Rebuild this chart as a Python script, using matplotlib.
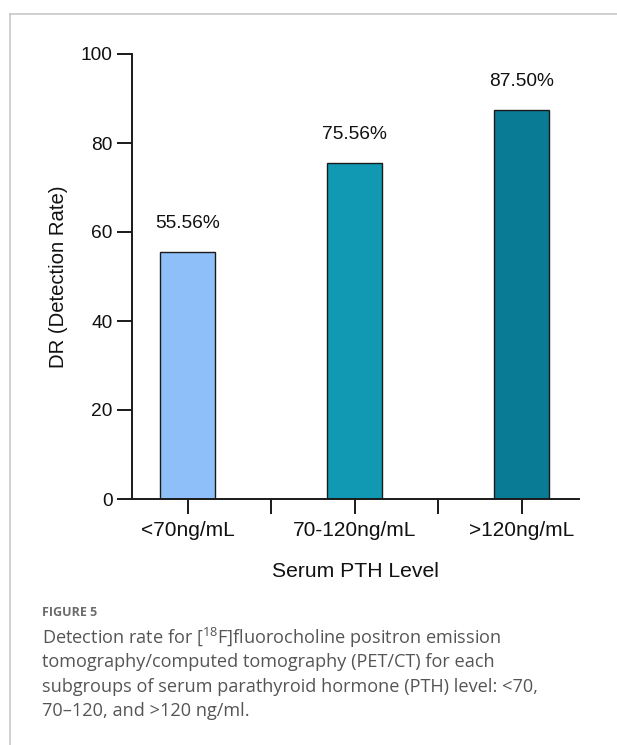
import matplotlib
matplotlib.use("Agg")
import matplotlib.pyplot as plt
from matplotlib.lines import Line2D

# 数据
categories = ["<70ng/mL", "70-120ng/mL", ">120ng/mL"]
detection_rate = [55.56, 75.56, 87.50]
value_labels = ["55.56%", "75.56%", "87.50%"]
bar_colors = ["#8fbff8", "#1199b4", "#0a7b94"]
y_ticks = [0, 20, 40, 60, 80, 100]

plt.rcParams["font.family"] = ["Liberation Sans", "DejaVu Sans"]
plt.rcParams["mathtext.fontset"] = "custom"
plt.rcParams["mathtext.rm"] = "Open Sans"

W, H = 617, 745
fig = plt.figure(figsize=(W / 100, H / 100), dpi=100)

# 坐标轴位置（像素换算）
left, right, top, bottom = 132, 579, 54, 499
ax = fig.add_axes([left / W, 1 - bottom / H, (right - left) / W, (bottom - top) / H])

x = list(range(len(categories)))
ax.bar(x, detection_rate, width=0.327, color=bar_colors, edgecolor="#1a1a1a", linewidth=1.0)

for xi, v, lab in zip(x, detection_rate, value_labels):
    ax.annotate(lab, (xi, v), xytext=(0, 28), textcoords="offset pixels",
                ha="center", va="center", fontsize=13.8, color="#111111")

ax.set_xlim(-0.333, 2.343)
ax.set_ylim(0, 100)
ax.set_yticks(y_ticks)
ax.set_xticks(x)
ax.set_xticklabels(categories)
ax.set_xticks([0.5, 1.5], minor=True)

for s in ["top", "right"]:
    ax.spines[s].set_visible(False)
for s in ["left", "bottom"]:
    ax.spines[s].set_linewidth(1.4)
    ax.spines[s].set_color("#1a1a1a")

ax.tick_params(axis="both", which="both", direction="out", length=10.8, width=1.4,
               color="#1a1a1a", labelcolor="#111111")
ax.tick_params(axis="y", which="major", pad=3, labelsize=13.8)
ax.tick_params(axis="x", which="major", pad=5, labelsize=15)

ax.set_ylabel("DR (Detection Rate)", fontsize=14.6, labelpad=9, color="#111111")
ax.set_xlabel("Serum PTH Level", fontsize=15.2, labelpad=16, color="#111111")

# 外框线
fig.add_artist(Line2D([9.5 / W, 1], [1 - 14 / H, 1 - 14 / H], color="#c8c8c8", lw=1.2))
fig.add_artist(Line2D([9.5 / W, 9.5 / W], [0, 1 - 14 / H], color="#c8c8c8", lw=1.2))

# 图注
fig.text(42.5 / W, 1 - 613 / H, "FIGURE 5", family="Open Sans", fontweight="bold",
         fontsize=9, color="#6b6b6b", va="center", ha="left")
caption = [
    r"Detection rate for [$\mathregular{^{18}}$F]fluorocholine positron emission",
    "tomography/computed tomography (PET/CT) for each",
    "subgroups of serum parathyroid hormone (PTH) level: <70,",
    "70\u2013120, and >120 ng/ml.",
]
for i, line in enumerate(caption):
    fig.text(42.5 / W, 1 - (638 + 24.3 * i) / H, line, family="Open Sans",
             fontsize=13.1, color="#555555", va="center", ha="left")

fig.savefig("out.png", dpi=100)
